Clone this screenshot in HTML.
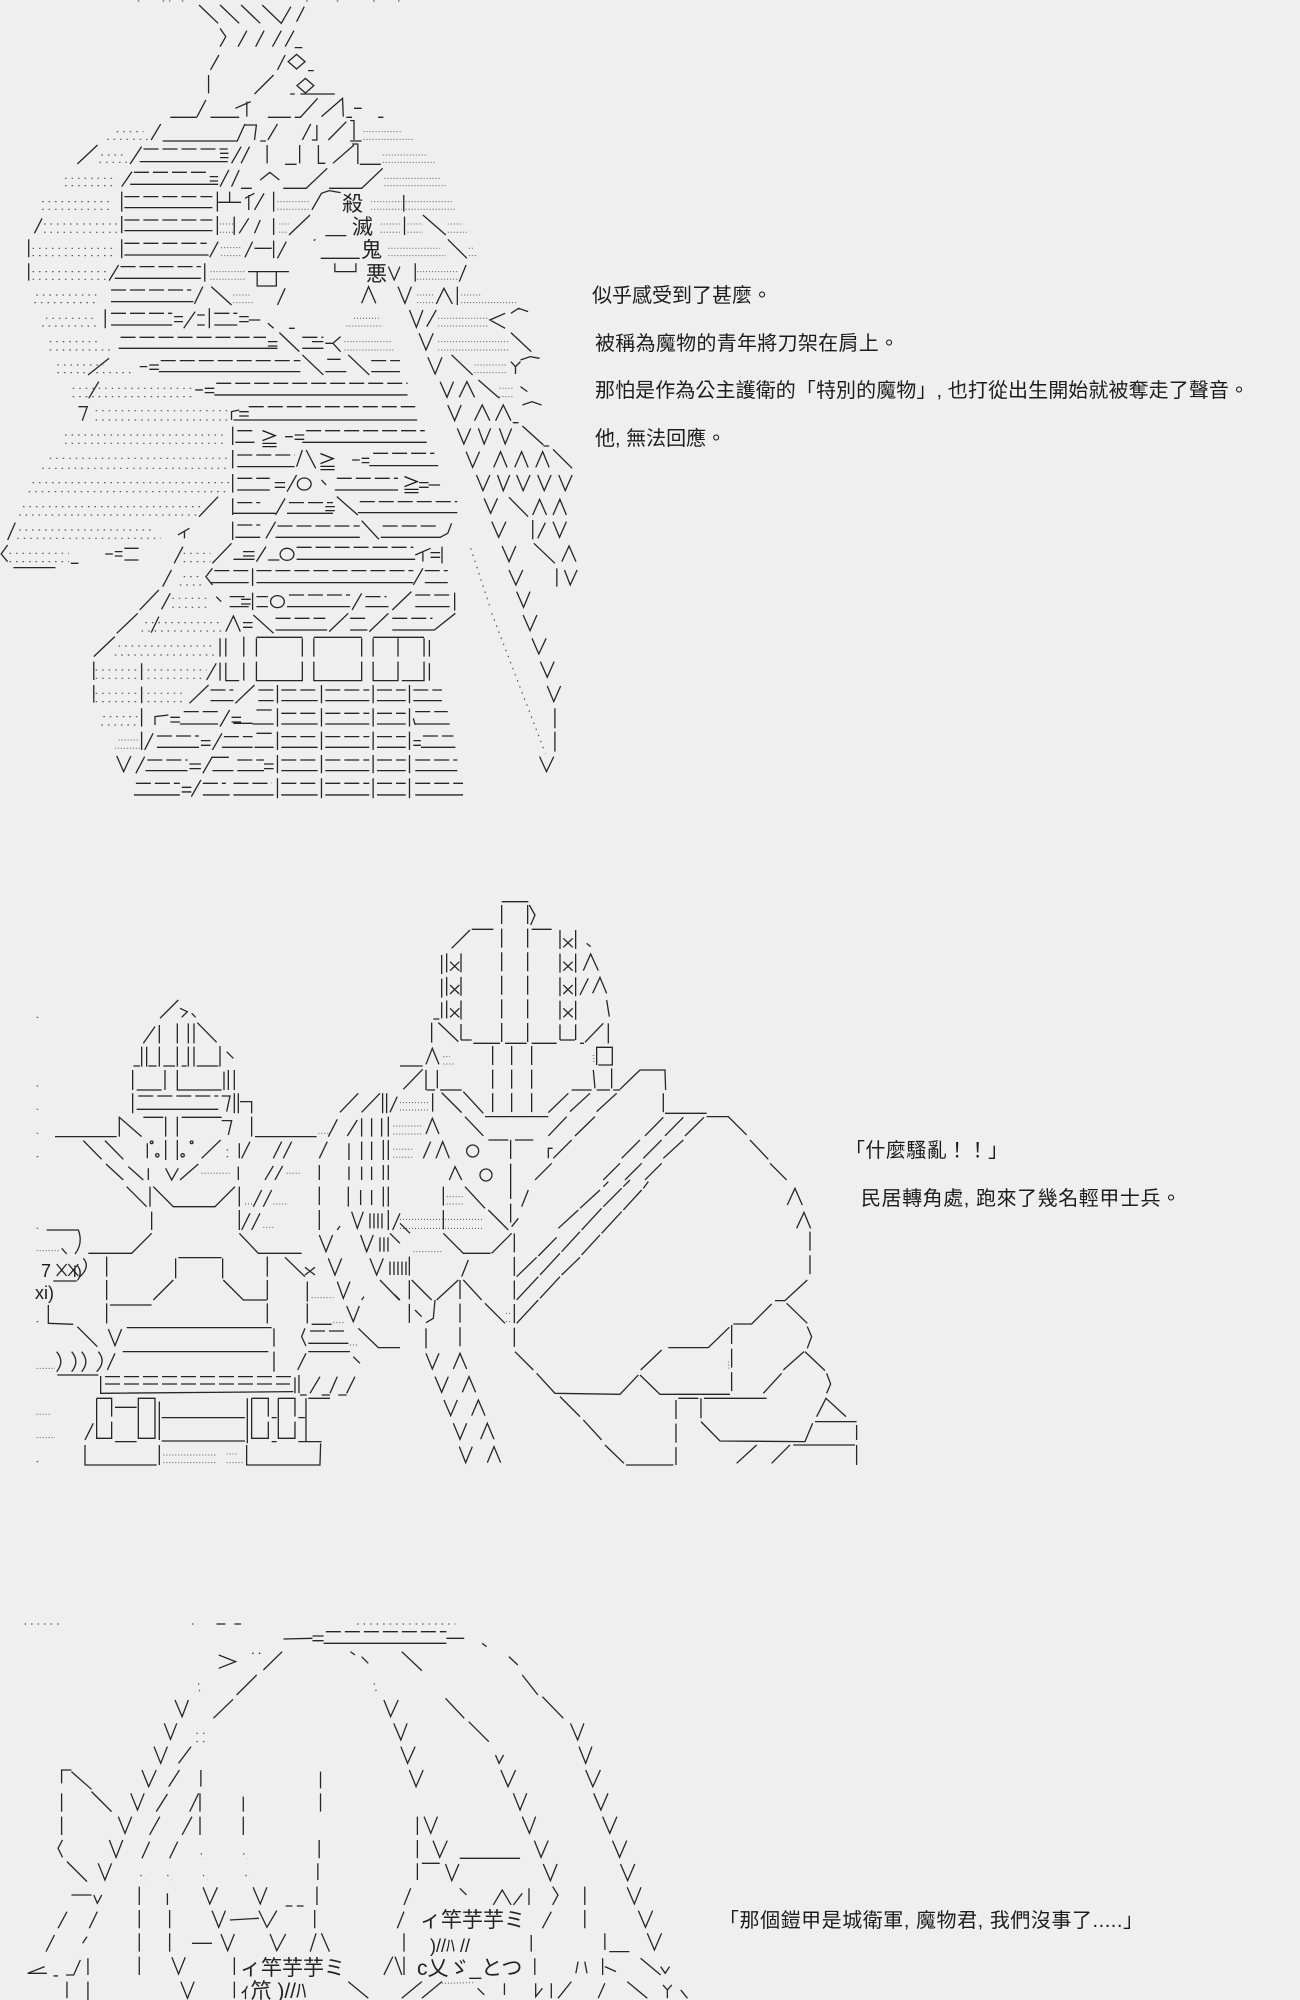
<!DOCTYPE html>
<html lang="zh-Hant"><head><meta charset="utf-8"><title>AA</title>
<style>
html,body{margin:0;padding:0;background:#efefef}
svg{display:block}
path{fill:none;stroke:#262626;stroke-width:1.3;vector-effect:non-scaling-stroke}
ellipse{fill:none;stroke:#262626;stroke-width:1.3;vector-effect:non-scaling-stroke}
.h{stroke-dasharray:15 4}
.v{stroke-dasharray:19 4.6}
.d{stroke:#555;stroke-width:1;stroke-dasharray:1 2}
.s{stroke:#555;stroke-width:1.2;stroke-dasharray:1.5 5}
text{font-family:"Liberation Sans","Noto Sans CJK TC",sans-serif;fill:#1c1c1c}
.t{font-size:20px}
.k{font-size:21px;fill:#222}
</style></head><body>
<svg xmlns="http://www.w3.org/2000/svg" width="1300" height="2000" viewBox="0 0 1300 2000">
<rect width="1300" height="2000" fill="#efefef"/>

<!-- Figure 1, upper -->
<g transform="scale(.3827,.3333)">
<path d="M520 15 570 70M575 15 625 70M630 15 680 70M685 15 735 70 760 20M775 65 795 20
M575 85 590 110 575 140M622 140 645 92M668 140 690 92M712 140 735 92M745 140 768 92M770 143 790 143
M550 210 572 165M725 210 745 165M775 163 797 185 775 207 753 185ZM805 212 820 212
M545 225 545 280M665 282 715 225M798 235 820 257 798 279 776 257ZM758 282 770 282M785 282 875 282
M515 350 538 300M445 352 515 352M550 352 625 352M615 325 655 305M645 305 645 350M700 352 760 352M770 352 785 352 830 295M840 350 895 295 897 350M905 352 920 352M925 325 945 325M988 352 1002 352
M395 420 420 372M425 423 620 423 640 372M640 375 670 375 665 420M680 423 695 423M700 420 725 372M790 420 812 372M828 375 828 420 815 420M858 420 905 365M915 362 925 362 925 420M915 423 945 423
M202 492 255 435M340 492 370 440M365 485 595 485M575 460 597 460M575 473 597 473M605 490 630 440M630 490 652 440M698 435 698 490M745 493 775 493M783 435 783 490M832 435 832 490 850 490M870 490 925 435M920 432 935 432 935 492M940 493 995 493
M318 560 345 515M340 553 570 553M548 530 570 530M548 543 570 543M575 560 598 510M605 560 625 510M630 565 658 565M680 540 705 517 730 540M740 565 800 565 855 505M860 565 945 565 1000 505
M318 575 318 635M325 623 555 623M568 575 568 635M570 607 630 607M600 575 600 605M640 595 665 580M650 585 650 630M665 630 690 580M715 575 715 635M815 630 840 580 860 572 890 578M1055 585 1055 635
M90 700 110 655M318 648 318 700M325 692 555 692M568 648 568 705M612 650 612 705M625 700 650 655M665 700 680 660M715 655 715 705M755 705 810 645M850 707 905 707M1057 650 1057 705M1105 645 1165 705
M75 718 75 772M318 718 318 775M325 765 545 765M548 772 570 725M640 772 660 725M665 745 710 745M715 722 715 775M725 775 748 725M820 722 824 718M838 775 940 775M1170 718 1220 775
M75 790 75 842M285 842 310 795M300 835 525 835M535 790 535 845M648 815 755 815M672 815 672 858 722 858 722 815M875 790 875 815 930 815 930 790M1015 800 1030 840 1045 800M1085 790 1085 845M1200 845 1218 795
M290 905 505 905M508 912 530 860M552 860 605 915M725 915 745 865M945 910 963 860 982 910M1040 860 1058 910 1075 860M1140 912 1160 865 1182 912M1195 860 1195 915
M275 928 275 985M290 975 450 975M455 950 478 950M455 965 478 965M480 985 510 935M515 945 535 945M515 975 535 975M547 925 547 985M560 975 620 975M625 950 650 950M625 965 650 965M650 960 680 960M700 970 715 985M755 985 770 985M1070 930 1088 982 1105 930M1115 980 1140 930M1320 940 1280 960 1320 985M1335 940 1355 925 1380 935
M310 1045 725 1045M700 1025 725 1025M700 1038 725 1038M730 998 782 1055M790 1045 845 1045M815 1025 845 1025M850 1030 870 1030M890 1010 870 1030 890 1055M1095 1000 1113 1050 1132 1000M1335 998 1388 1055
M230 1125 285 1075M365 1100 385 1100M390 1095 415 1095M390 1108 415 1108M415 1115 785 1115M790 1065 845 1125M850 1115 905 1115M855 1078 890 1078M910 1065 965 1125M970 1115 1045 1115M1118 1072 1137 1122 1155 1072M1180 1065 1235 1125M1335 1085 1347 1100 1360 1085M1347 1100 1347 1122M1360 1080 1385 1070 1410 1075
M232 1195 258 1145M510 1170 530 1170M535 1165 560 1165M535 1178 560 1178M560 1185 1065 1185M1150 1145 1168 1192 1185 1145M1200 1192 1220 1145 1240 1192M1250 1140 1305 1195M1360 1160 1378 1175"/>
<path class="h" d="M375 447 595 447M350 517 540 517M325 590 555 590M325 660 555 660M325 730 540 730M315 800 525 800M290 870 500 870M290 940 450 940M560 940 620 940M315 1012 695 1012M790 1012 845 1012M420 1082 785 1082M970 1082 1045 1082M565 1150 1065 1150"/>
<path class="d" d="M950 395 1050 395M950 418 1080 418M1000 465 1118 465M1000 487 1138 487M1005 535 1150 535M1005 557 1165 557M725 605 810 605M725 628 810 628M970 605 1050 605M970 628 1050 628M1060 605 1180 605M1060 628 1190 628M575 672 610 672M575 697 610 697M730 672 755 672M730 697 750 697M995 672 1050 672M995 697 1050 697M1065 672 1105 672M1065 697 1105 697M1170 672 1210 672M1170 697 1220 697M578 743 632 743M578 767 632 767M1015 745 1150 745M1015 767 1165 767M1225 745 1240 745M1225 767 1245 767M550 815 640 815M550 838 640 838M1090 815 1195 815M1090 838 1195 838M610 885 655 885M610 908 665 908M1090 885 1135 885M1090 908 1135 908M1205 885 1260 885M1205 908 1350 908M925 955 990 955M905 978 1000 978M1145 955 1275 955M1145 978 1275 978M900 1025 1020 1025M900 1050 1030 1050M1145 1025 1330 1025M1145 1050 1330 1050M1240 1095 1325 1095M1240 1118 1325 1118M1305 1165 1340 1165M1305 1190 1340 1190"/>
<path class="s" d="M305 395 375 395M280 418 395 418M265 465 330 465M260 487 335 487M170 535 295 535M170 557 300 557M110 605 295 605M110 628 295 628M115 672 310 672M115 697 310 697M85 745 295 745M85 767 295 767M85 815 280 815M85 838 280 838M95 885 260 885M90 908 260 908M120 955 250 955M110 978 250 978M130 1025 260 1025M130 1050 300 1050M150 1095 270 1095M150 1118 345 1118M190 1165 500 1165M190 1190 500 1190M360 3 375 3M425 3 445 3M475 3 490 3M800 3 810 3M880 3 890 3M975 3 985 3M1040 3 1050 3"/>
</g>
<text class="k" x="342" y="211">殺</text>
<text class="k" x="352" y="234">滅</text>
<text class="k" x="361" y="257">鬼</text>
<text class="k" x="366" y="281">悪</text>

<!-- Figure 1, lower -->
<g transform="translate(0,400) scale(.3827,.3333)">
<ellipse cx="795" cy="252" rx="18" ry="18"/><ellipse cx="750" cy="463" rx="18" ry="18"/><ellipse cx="725" cy="605" rx="18" ry="18"/>
<path d="M205 20 228 20 215 62M605 60 605 35 625 30M625 35 650 35M625 48 650 48M610 60 1090 60M1170 15 1188 62 1205 15M1240 62 1260 15 1280 62M1295 62 1315 15 1335 62M1340 68 1355 68M1365 15 1390 5 1415 15
M608 80 608 135M615 127 665 127M745 110 765 110M770 105 795 105M770 118 795 118M790 127 1115 127M1195 85 1212 132 1230 85M1250 85 1265 132 1282 85M1305 85 1320 132 1337 85M1365 78 1420 135M1420 138 1435 138
M608 150 608 205M620 200 770 200M775 200 790 150M800 150 825 205M920 180 940 180M945 175 965 175M945 188 965 188M965 197 1145 197M1218 155 1235 202 1253 155M1290 202 1308 155 1325 202M1345 202 1363 155 1380 202M1400 202 1418 155 1435 202M1445 148 1495 205
M608 222 608 278M620 270 705 270M718 248 745 248M718 262 745 262M750 275 775 225M840 240 852 255M875 270 1040 270M1095 248 1120 248M1095 262 1120 262M1120 255 1150 255M1245 225 1262 272 1280 225M1300 225 1315 272 1332 225M1350 225 1367 272 1385 225M1405 225 1422 272 1440 225M1460 225 1477 272 1495 225
M520 350 570 290M608 295 608 345M610 340 720 340M850 320 875 320M850 332 875 332M720 345 745 295M750 340 870 340M880 290 935 345M935 338 1195 338M1265 295 1282 340 1300 295M1330 292 1380 350M1392 345 1410 298 1428 345M1445 345 1463 298 1480 345
M20 420 40 368M465 405 495 385M482 395 482 415M608 365 608 420M615 412 680 412M695 415 720 365M720 412 940 412M945 362 990 418M995 412 1150 412 1170 400 1180 370M1285 365 1303 412 1322 365M1392 360 1392 418M1405 415 1425 368M1445 365 1462 412 1480 365
M20 435 3 462 20 485M275 462 295 462M300 455 320 455M300 468 320 468M325 480 362 480M455 490 478 440M555 490 605 430M610 478 665 478M635 455 665 455M635 468 665 468M670 485 695 440M700 480 730 480M775 478 1085 478M1085 465 1125 445M1105 455 1105 485M1125 458 1150 458M1125 472 1150 472M1155 440 1155 490M1312 438 1330 485 1348 438M1395 430 1450 490M1468 485 1487 438 1505 485M35 503 145 503M185 490 205 490
M425 560 448 510M555 505 538 530 555 555M550 548 650 548M660 505 660 558M670 548 1080 548M1080 555 1105 505M1110 548 1170 548M1330 510 1348 555 1366 510M1455 505 1455 560M1475 510 1490 555 1508 510
M365 630 415 570M422 628 445 580M565 590 578 605M600 620 650 620M630 598 655 598M630 612 655 612M660 578 660 630M670 620 700 620M750 620 915 620M920 630 945 580M955 620 1015 620M1025 630 1075 575M1085 620 1175 620M1188 578 1188 632M1350 575 1368 622 1385 575
M305 700 360 640M395 698 415 650M590 695 610 648 628 695M635 668 660 668M635 682 660 682M662 645 715 700M720 690 855 690M860 695 910 640M915 690 960 690M965 695 1015 640M1025 690 1135 690 1190 640M1367 645 1385 692 1403 645
M245 770 300 710M575 715 575 770M590 715 590 770M637 710 637 770M670 712 790 712M670 715 670 770M790 715 790 770M820 712 945 712M820 715 820 770M945 715 945 770M975 712 1108 712M975 715 975 770M1040 715 1040 770M1108 715 1108 770M1122 720 1122 770M1390 715 1408 762 1427 715
M245 785 245 840M370 790 370 840M540 840 565 790M575 788 575 842M590 788 590 842 625 842M637 788 637 842M670 785 670 842 790 842 790 785M820 785 820 842 945 842 945 785M975 785 975 842 1040 842 1040 785M1050 842 1108 842 1108 785M1122 790 1122 842M1412 785 1430 832 1448 785
M245 855 245 908M370 860 370 910M495 910 545 855M550 902 610 902M615 910 665 855M675 902 715 902M725 855 725 910M735 902 830 902M840 855 840 910M850 902 965 902M975 855 975 910M985 902 1060 902M1070 855 1070 910M1080 902 1155 902M1430 858 1447 905 1465 858
M370 925 370 980M405 975 405 950 440 945M445 952 470 952M445 966 470 966M470 972 570 972M575 980 600 930M605 952 630 952M605 966 630 966M610 970 660 970M660 972 715 972M670 930 710 930M725 925 725 980M735 972 830 972M840 925 840 980M850 972 965 972M975 925 975 980M985 972 1060 972M1070 925 1070 980M1080 955 1085 975M1085 972 1175 972M1450 925 1450 985
M370 995 370 1050M378 1050 400 1000M410 1042 520 1042M525 1022 550 1022M525 1036 550 1036M555 1050 580 1000M580 1042 660 1042M665 1042 715 1042M670 1000 710 1000M725 995 725 1050M735 1042 830 1042M840 995 840 1050M850 1042 965 1042M975 995 975 1050M985 1042 1060 1042M1070 995 1070 1050M1080 1022 1100 1022M1080 1036 1100 1036M1100 1042 1190 1042M1450 995 1450 1055
M305 1068 323 1115 342 1068M355 1120 378 1070M380 1112 490 1112M495 1092 525 1092M495 1106 525 1106M530 1120 555 1070M555 1072 598 1072M555 1112 610 1112M620 1112 690 1112M690 1092 715 1092M690 1106 715 1106M725 1065 725 1120M735 1112 830 1112M840 1065 840 1120M850 1112 965 1112M975 1065 975 1120M985 1112 1060 1112M1070 1065 1070 1120M1085 1112 1195 1112M1410 1070 1428 1115 1447 1070
M350 1185 470 1185M475 1162 500 1162M475 1176 500 1176M500 1190 525 1140M530 1185 600 1185M610 1185 715 1185M725 1135 725 1195M735 1185 830 1185M840 1135 840 1195M850 1185 965 1185M975 1135 975 1195M985 1185 1060 1185M1070 1135 1070 1195M1085 1185 1210 1185"/>
<path class="h" d="M650 20 1085 20M620 92 665 92M800 92 1110 92M620 165 770 165M975 160 1135 160M620 235 705 235M880 235 1040 235M620 308 680 308M755 308 870 308M940 305 1195 305M620 375 680 375M725 378 940 378M1000 378 1145 378M325 445 362 445M775 442 1080 442M560 512 650 512M670 512 1080 512M1110 512 1170 512M600 590 650 590M670 590 700 590M755 585 915 585M955 590 1010 590M1085 585 1175 585M720 655 850 655M915 655 960 655M1025 655 1130 655M550 870 610 870M675 870 715 870M735 870 830 870M850 870 965 870M985 870 1060 870M1080 870 1155 870M480 935 570 935M735 940 830 940M850 940 965 940M985 940 1060 940M1085 935 1170 935M410 1008 520 1008M585 1010 660 1010M735 1010 830 1010M850 1010 965 1010M985 1010 1060 1010M1105 1008 1185 1008M385 1080 490 1080M620 1080 690 1080M735 1080 830 1080M850 1080 965 1080M985 1080 1060 1080M1085 1080 1195 1080M355 1150 470 1150M530 1150 590 1150M610 1150 710 1150M735 1150 830 1150M850 1150 965 1150M985 1150 1060 1150M1085 1150 1210 1150"/>
<path class="s" d="M250 32 600 32M250 60 600 60M170 105 590 105M170 130 590 130M130 175 600 175M110 205 600 205M85 248 600 248M75 275 600 275M60 320 530 320M50 345 520 345M50 390 400 390M45 415 420 415M25 460 180 460M25 485 180 485M480 460 550 460M480 485 550 485M480 530 530 530M470 555 530 555M450 595 540 595M450 622 540 622M380 668 580 668M370 693 580 693M310 738 560 738M300 765 565 765M250 810 540 810M250 835 530 835M250 880 480 880M250 905 480 905M270 950 365 950M265 975 365 975M1230 445 1280 620M1285 640 1425 1060"/>
<path class="d" d="M300 1045 365 1045M310 1020 365 1020"/>
</g>
<text font-size="19" x="260" y="446">≧</text>
<text font-size="19" x="318" y="469">≧</text>
<text font-size="19" x="402" y="492">≧</text>

<!-- Figure 2, left upper -->
<g transform="translate(0,880) scale(.3333)">
<ellipse cx="455" cy="787" rx="4" ry="4"/><ellipse cx="472" cy="826" rx="5" ry="5"/><ellipse cx="548" cy="826" rx="5" ry="5"/><ellipse cx="575" cy="787" rx="4" ry="4"/>
<path d="M480 415 535 360M540 385 562 395 545 412M575 400 587 412
M430 490 465 440M478 435 478 490M532 430 532 490M565 430 565 490M582 430 582 490M592 428 650 487
M425 500 425 560M440 500 440 560M478 500 478 560M532 500 532 560M565 500 565 560M582 500 582 560M660 498 660 560M680 515 700 535M400 558 420 558M445 558 470 558M490 558 525 558M545 558 560 558M590 558 655 558
M398 570 398 630M410 630 485 630M495 570 495 630M532 570 532 630 665 630M672 575 672 630M685 570 685 630M703 570 703 630
M398 640 398 700M410 688 655 688M665 648 690 648 680 695M703 640 703 700M720 665 755 665 755 700M715 640 715 700M1020 697 1075 640M1085 697 1140 640M1148 640 1148 700M1160 640 1160 700M1170 697 1192 650
M358 770 358 712 425 770M430 712 490 712M497 710 497 770M532 710 532 770M545 712 665 712M665 722 695 722 685 765M755 710 755 770M165 770 350 770M765 770 950 770M985 770 1012 718M1042 768 1072 720M1085 715 1085 770M1115 715 1115 770M1145 715 1145 770M1165 710 1165 770
M250 782 305 838M315 782 370 838M442 790 442 835M497 780 497 840M532 780 532 840M605 835 662 780M718 790 718 835M725 835 750 785M820 835 845 785M850 835 875 785M958 835 982 785M1047 790 1047 840M1085 785 1085 840M1115 785 1115 840M1150 780 1150 840M1165 780 1165 840
M318 852 370 900M385 860 430 900M445 865 445 900M497 865 515 900 535 865M540 900 595 852M715 860 715 900M795 900 820 858M825 900 848 858M958 855 958 900M1047 860 1047 900M1085 860 1085 900M1115 860 1115 900M1150 855 1150 900M1165 855 1165 900"/>
<path class="h" d="M415 648 655 648"/>
<path class="s" d="M110 412 116 412M110 618 116 618M110 688 116 688M110 760 116 760M110 830 116 830M680 810 690 810M680 830 690 830"/>
<path class="d" d="M955 760 985 760M1180 738 1265 738M1180 762 1265 762M1180 808 1240 808M1180 832 1240 832M1200 668 1290 668M1200 690 1290 690M605 880 690 880M860 880 905 880"/>
</g>

<!-- Figure 2, left lower -->
<g transform="translate(0,1180) scale(.3333)">
<path d="M380 20 440 80M450 20 450 80M460 20 520 80 645 80 705 20M718 20 718 80M760 80 785 30M790 80 815 30M958 20 958 75M1045 20 1045 80M1082 30 1082 75M1115 30 1115 75M1150 20 1150 80M1165 20 1165 80
M455 95 455 150M718 90 718 150M725 150 750 100M755 150 780 100M958 90 958 150M1012 150 1020 138M1055 95 1072 145 1090 95M1110 100 1110 145M1122 100 1122 145M1134 100 1134 145M1146 100 1146 145M1165 90 1165 150M1178 150 1200 100
M140 150 235 150Q250 190 225 222M185 205 200 222M265 220 395 220 455 160M718 160 775 220 905 220M958 165 978 215 998 165M1082 165 1100 215 1120 165M1140 172 1140 215M1152 172 1152 215M1164 172 1164 215M1170 160 1200 190
M320 230 320 290M535 233 665 233M527 235 527 295M668 235 668 295M802 230 802 290M855 232 915 290M985 235 1005 285 1025 235M1110 235 1130 285 1150 235M1170 245 1170 285M1182 245 1182 285M1194 245 1194 285M1206 245 1206 285M1218 245 1218 285M250 235 Q272 260 240 290
M320 300 320 360M460 360 520 300M670 300 730 360 800 360M802 300 802 360M160 303 230 303M922 305 922 365M1012 305 1030 355 1050 305M1140 300 1198 360M1185 345 1200 360
M145 375 145 430 220 433M320 370 320 430M330 375 455 375M802 370 802 430M922 370 922 430M1040 378 1060 425 1078 378M1085 360 1092 350
M232 440 292 500M325 447 345 497 365 447M380 443 815 443M822 445 822 500M915 445 905 470 918 498M935 433 995 433M925 490 1045 490M1075 445 1135 503 1200 503
M322 570 345 520M368 515 805 515M822 515 822 575M893 570 918 520M925 515 1050 515M1060 530 1080 550M170 515Q195 545 170 575M215 515Q240 545 215 575M245 515Q270 545 245 575M295 515Q320 545 290 575M172 585 295 585
M302 588 302 640 880 635M885 592 885 640M897 585 897 640M930 640 960 590M990 640 1012 590M1040 640 1065 590M900 645 920 645M965 645 990 645M1015 645 1040 645
M290 655 290 775 335 775 335 725M335 710 335 655 290 655M345 682 410 682M415 655 465 655 465 775 415 775ZM478 665 478 780M485 713 735 713M485 783 735 783M742 655 742 790M755 655 755 775 805 775 805 725M805 710 805 655 755 655M835 655 835 775 885 775 885 725M885 710 885 655 835 655M918 655 918 785M925 655 990 655M345 785 410 785M255 780 280 730M815 713 830 713M895 713 915 713M815 785 830 785M895 785 965 785
M255 795 255 855 470 855M478 795 478 855M740 795 740 855 960 855 962 790"/>
<path class="h" d="M930 453 1040 453M315 590 875 590M315 612 870 612"/>
<path class="d" d="M110 212 180 212M110 565 165 565M110 703 155 703M110 773 165 773M935 353 1000 353M1000 428 1030 428M1050 495 1075 495M490 825 650 825M490 848 650 848M680 822 715 822M680 848 730 848M735 72 760 72M820 72 865 72M790 142 820 142"/>
<path class="s" d="M110 145 120 145M110 425 120 425M110 845 120 845"/>
<path d="M915 262 945 285M945 262 915 285M170 252 200 288M200 252 170 288M205 252 235 288M235 252 205 288"/>
</g>
<text x="41" y="1277" font-size="18">7</text>
<text x="73" y="1277" font-size="16">i)</text>
<text x="35" y="1299" font-size="18">xi)</text>

<!-- Figure 2, right upper -->
<g transform="translate(400,880) scale(.3333)">
<ellipse cx="218" cy="813" rx="18" ry="18"/><ellipse cx="258" cy="885" rx="18" ry="18"/>
<path d="M305 65 385 65M388 75 405 105 392 135M155 205 210 150M215 148 280 148M395 148 455 148M560 190 572 200
M150 245 178 272M178 245 150 272M150 315 178 342M178 315 150 342M150 385 178 412M178 385 150 412M490 175 518 202M518 175 490 202M490 245 518 272M518 245 490 272M490 315 518 342M518 315 490 342M490 385 518 412M518 385 490 412
M550 272 572 222 595 272M540 345 565 295M578 340 600 292 620 340M620 360 628 410M625 430 625 490M100 417 118 417M95 428 95 488M115 428 175 485M183 480 215 480M480 480 525 480M220 490 300 490M315 490 380 490M395 490 470 490M540 490 552 490M555 487 610 430
M78 553 97 505 117 553M590 555 590 502 637 502 637 555 595 555M635 565 635 625M580 570 585 625M0 558 68 558M10 628 68 568M78 570 78 630M112 570 112 625M120 630 185 630M190 635 250 700M515 630 575 630M590 630 630 630M640 630 660 630M445 698 505 640M660 628 720 570 795 570 797 630M790 640 790 697M80 630 105 630
M98 640 98 695M125 638 185 698M195 710 250 768M255 710 445 710M510 695 570 640M445 768 500 710M590 695 650 640M525 768 585 710M795 700 920 700M920 710 985 710 1040 765M1050 780 1105 838M1110 850 1160 900
M735 768 790 712M665 835 720 780M610 900 660 850M795 768 850 712M730 835 785 780M675 900 725 850M855 768 912 712M790 835 850 780M735 900 785 850
M78 762 97 715 117 762M265 780 325 780M345 780 400 780M445 835 445 805 458 805M460 835 515 780M405 900 455 850M70 835 92 785M108 835 128 785 148 835M148 900 165 860 185 900"/>
<path class="v" d="M125 225 125 415M140 220 140 415M183 220 183 480M305 75 305 490M383 75 383 490M480 150 480 480M527 150 527 480M278 498 278 705M335 498 335 705M395 498 395 705M332 780 332 900"/>
<path class="d" d="M130 530 150 530M130 552 165 552M580 525 582 550"/>
</g>

<!-- Figure 2, right lower -->
<g transform="translate(400,1180) scale(.3333)">
<path d="M275 220 335 160M130 160 190 220 272 220M195 20 255 85M265 90 325 150M365 80 385 30M335 140 355 115M185 290 205 240M110 360 175 300M35 300 95 360M190 300 245 360M255 370 315 430M0 130 30 160M78 445 78 505M105 360 100 415 78 428M45 390 65 410
M78 520 97 567 117 520M160 567 180 520 200 567M105 590 125 637 145 590M187 637 207 590 227 637M132 660 152 707 172 660M215 707 235 660 255 707M160 730 180 778 200 730M242 778 262 730 282 778M178 800 197 848 217 800M262 848 282 800 302 848
M345 515 400 570M410 580 465 640 660 643 715 585M722 570 785 510M720 585 780 643 990 643M805 503 925 503 988 442M1000 432 1055 432 1115 372M1125 362 1155 362 1222 300M1162 75 1185 25 1207 75M1190 145 1212 97 1232 145M1160 370 1222 430M1222 440 1235 470 1222 505M1215 515 1275 572M1280 580 1292 612 1280 640M1090 640 1145 580M1150 570 1212 515M835 655 895 655M912 655 1100 655M903 655 903 715M903 725 960 783 1215 785 1238 730M1250 710 1278 655 1338 710M1245 725 1370 725M1370 735 1370 780M1180 795 1365 795M1370 795 1370 855M1115 850 1170 795M1010 850 1070 795M678 855 820 855M480 650 540 710M550 720 605 780M615 795 672 850"/>
<path class="v" d="M28 230 28 430M130 20 130 150M332 0 332 135M343 160 343 505M180 300 180 505M1230 155 1230 295M995 435 995 645M828 660 828 855"/>
<path d="M350 290 410 232M415 228 470 172M475 145 535 90M540 85 600 30M610 20 625 5M350 360 415 290M420 285 480 220M485 215 540 155M545 150 605 85M610 80 665 25M670 20 690 0M350 430 415 360M420 355 480 290M485 285 540 232M545 225 600 165M605 160 665 95M670 90 725 30M730 25 745 5"/>
<path class="d" d="M40 215 130 215M0 118 250 118M0 145 250 145M140 50 190 50M140 72 190 72M318 400 335 400M318 425 335 425M985 545 988 570"/>
</g>

<!-- Figure 3 -->
<g transform="translate(0,1600) scale(.4464,.3333)">
<path d="M635 117 700 115M700 108 725 108M700 122 725 122M725 130 1000 130M1000 115 1040 115M1080 130 1090 140M1140 170 1160 195M1170 225 1205 285M1215 290 1262 355M490 165 528 185 490 205M590 210 632 155M530 285 575 225M478 355 522 298M785 155 795 165M810 170 825 190M900 155 945 212M998 295 1040 355M1050 365 1095 425
M392 300 408 350 422 300M368 370 382 418 396 370M345 440 360 490 375 440M318 510 333 560 350 510M293 580 308 630 323 580M265 650 280 700 295 650M245 720 260 772 275 720M220 790 235 840 250 790
M860 300 875 350 892 300M882 370 898 420 912 370M898 440 913 490 930 440M917 510 932 560 948 510
M1110 465 1118 490 1128 465M1122 510 1138 560 1155 510M1150 580 1165 630 1180 580M1170 650 1186 700 1200 650M1197 722 1212 772 1228 722M1217 792 1233 842 1248 792
M1278 370 1294 420 1308 370M1297 440 1312 490 1326 440M1312 510 1328 560 1345 510M1330 580 1346 630 1362 580M1350 650 1366 700 1382 650M1372 722 1388 772 1404 722M1390 792 1406 842 1422 792M1405 862 1421 912 1436 862M1430 932 1446 982 1462 932M1450 1000 1466 1050 1482 1000
M400 490 428 440M378 560 402 510M350 635 375 582M335 705 358 650M318 775 335 725M450 510 450 560M425 635 445 580M448 580 448 635M408 705 430 650M448 650 448 705M380 775 398 725
M545 590 545 635M545 650 545 705M718 515 718 565M718 580 718 635M715 720 715 775M712 790 712 840M710 860 710 915M705 930 705 985M695 1055 708 1000M720 1000 738 1055
M935 650 935 705M950 650 965 700 980 650M935 720 935 775M970 722 985 772 1002 722M1030 775 1165 775M935 790 935 840M945 790 985 790M998 792 1012 842 1028 792
M160 510 138 510 138 550M160 515 205 568M205 575 250 635M138 580 138 635M138 650 138 705M140 720 130 745 140 772M150 785 195 845
M160 885 205 885M210 885 218 910 228 885M130 985 150 935M200 985 218 935M103 1055 122 1005M185 1030 195 1010M100 1100 62 1120 105 1120M120 1128 130 1128M148 1125 165 1125 180 1080M197 1075 197 1125M150 1145 150 1195M197 1145 197 1200
M312 860 312 915M312 930 312 985M312 1000 312 1055M312 1070 312 1125M380 930 380 985M380 1000 380 1055M375 880 375 915
M455 862 470 912 487 862M567 862 583 912 598 862M475 932 490 982 505 932M515 960 580 955M580 932 598 982 620 932M640 918 655 918M665 918 680 918M430 1030 475 1030M495 1002 510 1052 525 1002M605 1002 620 1052 640 1002M385 1072 400 1122 415 1072M405 1145 420 1195 435 1145M525 1072 525 1125M525 1145 525 1195
M905 915 920 865M1030 865 1045 885M1105 915 1125 870 1145 915M1150 915 1170 880M1185 865 1185 915M1238 860 1250 885 1238 915M1310 860 1310 915M1310 930 1310 985M890 985 905 935M1215 985 1235 935
M905 1000 905 1055M1190 1005 1190 1055M1198 1075 1198 1125M860 1125 880 1070M885 1070 900 1125M905 1070 905 1125
M1355 1000 1355 1050M1365 1055 1410 1055M1295 1085 1290 1120M1310 1085 1315 1120M1350 1075 1350 1125M1355 1100 1380 1115M1435 1075 1480 1125M1480 1100 1490 1120 1500 1100M1340 1195 1355 1150M1405 1145 1450 1195M1485 1155 1495 1170 1505 1155M1495 1170 1495 1195M1525 1170 1540 1195
M780 1145 825 1195M900 1195 945 1145M945 1195 990 1145M1070 1165 1085 1185M1130 1150 1130 1185M1200 1150 1200 1190 1215 1165M1235 1150 1235 1195M1250 1195 1280 1145"/>
<path class="h" d="M730 95 1000 95"/>
<path class="s" d="M55 72 135 72M430 72 445 72M800 72 1020 72M445 250 448 285M838 250 845 285M440 400 465 400M440 425 465 425M450 760 460 775M545 760 555 775M315 825 325 840M375 825 385 840M455 825 465 840M550 825 560 840"/>
<path d="M485 72 505 72M525 72 540 72M565 160 568 160M580 160 583 160"/>
<path class="d" d="M990 1150 1060 1148"/>
</g>
<text class="k" x="420" y="1927">ィ竿芋芋ミ</text>
<text font-size="18" x="430" y="1952">)//ﾊ //</text>
<text class="k" x="417" y="1975">c乂ゞ_とつ</text>
<text class="k" x="240" y="1975">ィ竿芋芋ミ</text>
<text class="k" x="240" y="1998">ｨ笊 )//ﾊ</text>

<!-- Narration -->
<text class="t" x="592" y="302">似乎感受到了甚麼。</text>
<text class="t" x="595" y="350" textLength="304">被稱為魔物的青年將刀架在肩上。</text>
<text class="t" x="595" y="397" textLength="654">那怕是作為公主護衛的「特別的魔物」, 也打從出生開始就被奪走了聲音。</text>
<text class="t" x="595" y="445">他, 無法回應。</text>
<text class="t" x="845" y="1157" textLength="163">「什麼騷亂！！」</text>
<text class="t" x="861" y="1205" textLength="320">民居轉角處, 跑來了幾名輕甲士兵。</text>
<text class="t" x="719" y="1927" textLength="424">「那個鎧甲是城衛軍, 魔物君, 我們沒事了.....」</text>
</svg>
</body></html>
